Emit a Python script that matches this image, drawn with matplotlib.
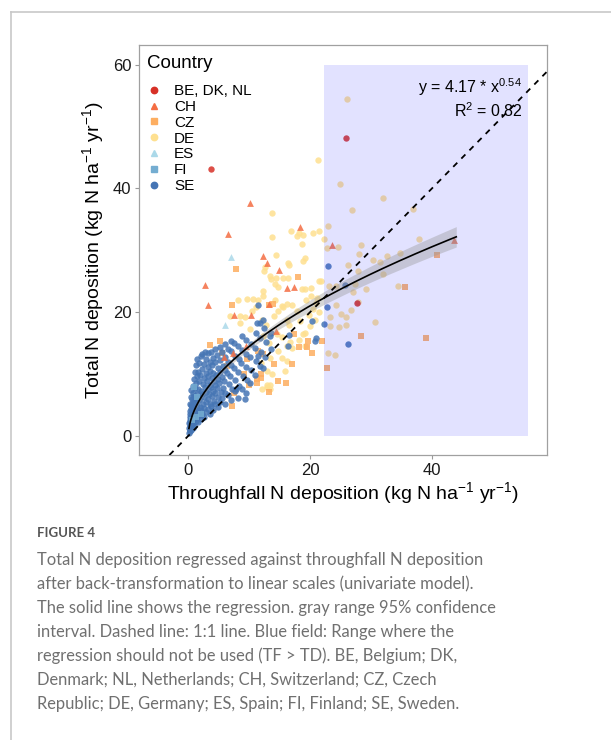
import matplotlib.pyplot as plt
import numpy as np
from matplotlib.patches import Rectangle
from matplotlib.lines import Line2D

plt.rcParams['font.family'] = ['Liberation Sans', 'DejaVu Sans']
plt.rcParams['mathtext.fontset'] = 'custom'
plt.rcParams['mathtext.rm'] = 'Liberation Sans'
plt.rcParams['mathtext.it'] = 'Liberation Sans:italic'

# regression TD = a * TF^b
coef_a = 4.17
coef_b = 0.54
r2 = 0.82
fit_xmax = 44
# half width of the 95% confidence band
ci_x = [0.1, 5, 10, 15, 20, 25, 30, 35, 40, 44]
ci_hw = [0.35, 0.4, 0.5, 0.7, 0.95, 1.15, 1.3, 1.45, 1.55, 1.65]
# blue field (TF > TD)
field_xmax = 55.8
field_ymax = 60

countries = ['BE, DK, NL', 'CH', 'CZ', 'DE', 'ES', 'FI', 'SE']
colors = ['#D73027', '#F46D43', '#FDAE61', '#FEE090', '#ABD9E9', '#74ADD1', '#4575B4']
markers = ['o', '^', 's', 'o', '^', 's', 'o']

# (throughfall N, total N) per country
be_pts = [(3.8, 43.1), (25.9, 48.1), (27.7, 21.5)]
ch_pts = [(10.2, 37.6), (6.5, 32.7), (12.3, 29.1), (13.0, 27.9), (14.9, 26.8), (18.3, 33.8),
          (2.7, 24.4), (16.2, 23.9), (17.3, 24.0), (3.3, 21.1), (13.3, 21.3), (23.6, 30.9),
          (43.6, 31.7), (7.5, 19.6), (10.3, 19.6), (14.4, 16.9), (5.8, 12.7), (7.3, 13.4),
          (9.5, 14.5)]
cz_pts = [(7.8, 27.0), (18.0, 25.7), (7.2, 21.1), (13.9, 21.3), (3.5, 14.7), (5.2, 15.4),
          (5.5, 13.4), (13.2, 21.1), (17.3, 16.4), (18.1, 14.4), (20.3, 13.4), (17.1, 11.6),
          (14.0, 11.6), (11.3, 9.2), (10.0, 8.3), (13.3, 7.1), (14.7, 8.8), (7.2, 4.9),
          (7.5, 7.0), (9.1, 10.0), (12.0, 10.0), (22.7, 11.0), (21.9, 15.3), (9.6, 12.4),
          (6.3, 11.3), (12.3, 13.2), (19.5, 14.4), (35.5, 24.0), (40.8, 29.2), (28.4, 16.2),
          (39.0, 15.9), (19.6, 15.4), (16.0, 8.6), (12.0, 9.3), (11.3, 8.6), (11.4, 13.7)]
de_pts = [(13.7, 36.0), (13.8, 32.2), (16.9, 33.1), (17.8, 32.3), (18.1, 32.8), (18.8, 32.4),
          (20.5, 32.8), (21.4, 33.2), (18.7, 31.0), (14.4, 29.3), (16.4, 28.0), (16.6, 27.7),
          (19.1, 28.7), (18.9, 28.3), (12.6, 27.3), (12.5, 26.6), (13.4, 25.8), (13.6, 25.3),
          (14.4, 25.6), (15.5, 25.6), (16.3, 25.5), (14.3, 24.6), (14.8, 24.0), (12.2, 23.5),
          (12.3, 22.6), (18.6, 23.7), (19.2, 23.8), (20.2, 23.9), (21.4, 25.1), (21.8, 25.0),
          (8.1, 22.0), (9.6, 22.1), (10.7, 22.1), (11.5, 22.0), (14.3, 21.9), (15.4, 21.0),
          (16.2, 21.3), (17.1, 21.1), (19.4, 22.0), (20.1, 22.6),
          (24.9, 40.7), (31.9, 38.4), (26.9, 36.5), (23.0, 34.0), (22.3, 31.8), (22.8, 30.3),
          (24.6, 30.6), (28.3, 30.9), (36.9, 36.6), (37.9, 31.8), (34.8, 29.5), (32.6, 29.0),
          (31.4, 28.1), (30.4, 28.5), (28.1, 29.4), (26.2, 27.6), (27.8, 26.6), (32.0, 26.1),
          (34.4, 24.3), (29.1, 23.8), (27.4, 24.5), (27.0, 23.3), (24.3, 24.2), (23.1, 24.2),
          (27.9, 21.7), (24.2, 21.1), (26.7, 20.3), (23.2, 19.2), (25.9, 19.2), (25.0, 19.7),
          (30.7, 18.4), (24.8, 17.6), (25.9, 17.9), (23.3, 17.7), (23.0, 13.4), (24.1, 13.1),
          (26.1, 54.5), (21.3, 44.6),
          (6.9, 19.4), (8.5, 19.4), (9.3, 19.2), (10.4, 20.2), (11.1, 20.8), (12.1, 18.8),
          (12.7, 18.0), (14.0, 19.4), (14.8, 20.2), (15.6, 20.8), (16.2, 18.8), (16.6, 18.0),
          (17.8, 20.2), (18.3, 18.6), (14.5, 16.4), (15.4, 16.0), (16.2, 14.5), (17.0, 14.2),
          (12.3, 16.1), (13.3, 15.0), (14.8, 13.7), (15.4, 12.6), (16.2, 12.1), (13.4, 12.6),
          (12.0, 11.8), (12.9, 10.5), (12.9, 7.9), (13.4, 8.3), (12.1, 7.5), (16.7, 15.1),
          (18.9, 16.4), (19.2, 14.5), (19.9, 17.8), (8.5, 18.3), (10.2, 17.2), (13.7, 10.0),
          (15.9, 10.5), (12.9, 8.3), (13.4, 7.5), (18.2, 15.5), (19.2, 16.7), (20.5, 20.5),
          (21.0, 21.4), (21.5, 20.0), (19.8, 19.5), (21.2, 22.3), (20.8, 18.8)]
es_pts = [(7.0, 28.9), (6.1, 17.9)]
fi_pts = [(1.3, 3.0), (0.6, 2.6), (1.5, 6.2), (2.1, 3.6), (0.9, 7.9)]
se_pts = [(0.1, 0.5), (0.15, 1.2), (0.05, 2.0), (0.2, 3.1),
          (0.25, 0.8), (0.3, 1.6), (0.2, 2.6), (0.35, 4.0), (0.3, 1.0), (0.22, 2.2), (0.28, 3.5), (0.33, 5.2),
          (0.42, 1.4), (0.38, 2.9), (0.45, 4.4), (0.4, 6.3), (0.5, 0.9), (0.55, 1.9), (0.48, 3.3),
          (0.52, 5.0), (0.46, 7.4), (0.6, 2.5), (0.63, 4.1), (0.58, 6.0),
          (0.7, 1.3), (0.75, 3.0), (0.68, 4.8), (0.72, 8.1), (0.8, 2.0), (0.85, 3.7), (0.78, 5.5),
          (0.83, 7.0), (0.9, 2.8), (0.95, 4.5), (0.88, 6.4), (0.92, 9.2),
          (1.0, 1.6), (1.05, 3.4), (0.98, 5.2), (1.1, 7.8), (1.02, 10.3), (1.2, 2.4), (1.25, 4.0),
          (1.15, 6.0), (1.22, 8.5), (1.18, 11.5), (1.4, 3.0), (1.35, 4.9), (1.45, 6.8), (1.38, 9.6),
          (1.42, 12.5),
          (1.6, 2.2), (1.65, 3.8), (1.55, 5.6), (1.62, 7.5), (1.58, 10.4), (1.8, 3.3), (1.85, 4.6),
          (1.75, 6.3), (1.82, 8.8), (1.78, 11.8), (2.0, 2.7), (2.05, 4.2), (1.95, 5.9), (2.1, 7.3),
          (1.98, 9.9), (2.02, 12.9),
          (2.3, 3.6), (2.35, 5.1), (2.25, 6.7), (2.4, 8.4), (2.28, 10.8), (2.32, 13.2), (2.6, 3.0),
          (2.65, 4.5), (2.55, 6.2), (2.7, 7.9), (2.62, 9.3), (2.58, 11.6), (2.9, 3.9), (2.95, 5.4),
          (2.85, 7.1), (3.0, 8.9), (2.88, 10.2), (2.92, 12.4), (2.8, 13.5),
          (3.2, 4.3), (3.25, 6.0), (3.15, 7.6), (3.3, 9.6), (3.22, 11.1), (3.18, 13.4), (3.5, 3.5),
          (3.55, 5.1), (3.45, 6.8), (3.6, 8.3), (3.52, 10.5), (3.48, 12.0), (3.8, 4.8), (3.85, 6.4),
          (3.75, 7.9), (3.9, 9.3), (3.82, 11.4), (3.78, 13.5),
          (4.1, 4.2), (4.15, 5.7), (4.05, 7.3), (4.2, 8.8), (4.12, 10.2), (4.08, 12.6), (4.4, 5.2),
          (4.45, 6.9), (4.35, 8.3), (4.5, 9.8), (4.42, 11.9), (4.38, 14.0), (4.8, 4.6), (4.85, 6.2),
          (4.75, 7.7), (4.9, 9.2), (4.82, 10.9), (4.78, 13.1),
          (5.2, 5.5), (5.3, 7.1), (5.1, 8.6), (5.25, 10.4), (5.15, 12.2), (5.22, 14.3), (5.6, 6.1),
          (5.7, 7.8), (5.5, 9.5), (5.65, 11.3), (5.58, 13.5), (6.0, 5.2), (6.1, 7.0), (5.9, 8.9),
          (6.05, 10.6), (5.95, 12.8), (6.02, 14.8),
          (6.5, 6.6), (6.6, 8.4), (6.4, 10.1), (6.55, 12.0), (6.45, 14.1), (7.0, 5.8), (7.1, 7.6),
          (6.9, 9.7), (7.05, 11.5), (6.95, 13.7), (7.02, 15.3), (7.6, 7.2), (7.7, 9.0), (7.5, 11.0),
          (7.65, 12.9), (7.55, 15.0),
          (8.2, 6.1), (8.3, 8.1), (8.1, 10.3), (8.25, 12.4), (8.15, 14.6), (8.8, 7.5), (8.9, 9.6),
          (8.7, 11.8), (8.85, 13.8), (8.75, 16.1), (9.5, 7.0), (9.6, 9.0), (9.4, 11.2), (9.55, 13.3),
          (9.45, 15.5),
          (10.2, 8.6), (10.3, 10.7), (10.1, 12.7), (10.25, 14.9), (11.0, 9.8), (11.1, 12.1),
          (10.9, 14.2), (11.05, 16.7), (11.8, 11.3), (11.9, 13.6), (11.7, 15.8), (11.85, 18.3),
          (12.6, 12.8), (12.7, 15.2), (12.5, 17.4), (13.5, 14.1), (13.6, 16.6),
          (11.3, 18.3), (12.2, 18.7), (13.4, 16.1), (16.3, 14.5), (16.6, 16.3), (11.5, 12.9),
          (12.2, 11.0), (20.3, 18.5), (20.9, 15.9), (20.8, 15.4), (22.2, 18.1), (22.8, 20.9),
          (23.0, 27.5), (25.7, 24.4), (26.3, 14.8), (11.4, 21.1), (9.3, 6.0), (7.8, 7.5)]

all_pts = [be_pts, ch_pts, cz_pts, de_pts, es_pts, fi_pts, se_pts]
draw_order = [3, 2, 6, 5, 1, 4, 0]
sizes = {'o': 21, '^': 24, 's': 17}

fig = plt.figure(figsize=(6.11, 7.40), dpi=100)
W, H = 611, 740

# page card border
fig.add_artist(Line2D([11 / W, 11 / W], [0, 1 - 12 / H], color='#c8c8c8', lw=1.2))
fig.add_artist(Line2D([11 / W, 1], [1 - 12 / H, 1 - 12 / H], color='#c8c8c8', lw=1.2))

ax = fig.add_axes([139 / W, 1 - 455 / H, 408 / W, 410 / H])

for i in draw_order:
    pts = np.array(all_pts[i])
    ax.scatter(pts[:, 0], pts[:, 1], s=sizes[markers[i]], marker=markers[i],
               color=colors[i], alpha=0.85, linewidths=0, zorder=2)

# field where the regression should not be used (starts where fit crosses 1:1)
field_xmin = coef_a ** (1 / (1 - coef_b))
ax.add_patch(Rectangle((field_xmin, 0), field_xmax - field_xmin, field_ymax,
                       facecolor='blue', alpha=0.115, lw=0, zorder=3))

xs = np.linspace(ci_x[0], fit_xmax, 300)
fit = coef_a * xs ** coef_b
hw = np.interp(xs, ci_x, ci_hw)
ax.fill_between(xs, fit - hw, fit + hw, color='#999999', alpha=0.4, lw=0, zorder=4)
ax.plot(xs, fit, color='black', lw=1.2, zorder=5)
ax.axline((0, 0), slope=1, color='black', lw=1.3, ls=(0, (3.2, 3.2)), zorder=5)

ax.text(0.94, 0.898, 'y = %.2f * x$^{%.2f}$' % (coef_a, coef_b), transform=ax.transAxes,
        ha='right', va='center', fontsize=11.5, zorder=6)
ax.text(0.94, 0.84, 'R$^{2}$ = %.2f' % r2, transform=ax.transAxes,
        ha='right', va='center', fontsize=11.5, zorder=6)

ax.set_xlim(-8.1, 58.9)
ax.set_ylim(-3.1, 63.2)
ax.set_xticks([0, 20, 40])
ax.set_yticks([0, 20, 40, 60])
ax.tick_params(colors='#999999', labelcolor='#1a1a1a', labelsize=12, length=3, width=0.8,
               pad=2.5)
for sp in ax.spines.values():
    sp.set_color('#a0a0a0')
    sp.set_linewidth(0.9)
ax.set_xlabel('Throughfall N deposition (kg N ha$^{-1}$ yr$^{-1}$)', fontsize=14, labelpad=2)
ax.set_ylabel('Total N deposition (kg N ha$^{-1}$ yr$^{-1}$)', fontsize=14, labelpad=5)

# legend: title drawn on its own, entries below it
ax.text(8 / 408, 1 - 18 / 410, 'Country', transform=ax.transAxes, fontsize=13.5,
        ha='left', va='center')
handles = [Line2D([], [], ls='', marker=markers[i], color=colors[i], markersize=4.6)
           for i in range(len(countries))]
leg = ax.legend(handles, countries, loc='upper left', bbox_to_anchor=(0.0, 1 - 33 / 410),
                frameon=False, fontsize=11, labelspacing=0.12, handletextpad=0.7,
                handlelength=1.2, borderaxespad=0.0, borderpad=0.4)

# caption
cap_font = ['Lato', 'DejaVu Sans']
fig.text(37 / W, 1 - 533 / H, 'FIGURE 4', fontsize=9.5, color='#555555', family=cap_font,
         fontweight='bold', va='center')
caption = ['Total N deposition regressed against throughfall N deposition',
           'after back-transformation to linear scales (univariate model).',
           'The solid line shows the regression. gray range 95% confidence',
           'interval. Dashed line: 1:1 line. Blue field: Range where the',
           'regression should not be used (TF > TD). BE, Belgium; DK,',
           'Denmark; NL, Netherlands; CH, Switzerland; CZ, Czech',
           'Republic; DE, Germany; ES, Spain; FI, Finland; SE, Sweden.']
for k, line in enumerate(caption):
    fig.text(37 / W, 1 - (560 + 24 * k) / H, line, fontsize=11.9, color='#707070',
             family=cap_font, va='center')

fig.savefig('out.png', dpi=100)
